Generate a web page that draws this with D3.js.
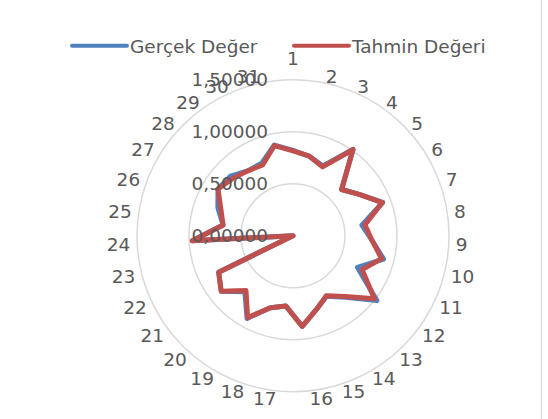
<!DOCTYPE html>
<html>
  <head>
    <meta charset='utf-8'>
    <style>
      body { margin: 0; background: #fff; }
      text { font-family: "DejaVu Sans", sans-serif; fill: #595959; }
    </style>
  </head>
  <body>
    <div id="chart"></div>
    <script src="https://cdn.jsdelivr.net/npm/d3@7/dist/d3.min.js"></script>
    <script type="text/javascript">

      // --------------------------- data --------------------------
      var categories = d3.range(1, 32).map(String);

      var gercek = [0.82, 0.78, 0.73, 1.01, 0.645, 0.75, 0.92, 0.67, 0.757, 0.90,
                    0.69, 1.02, 0.78, 0.665, 0.746, 0.877, 0.68, 0.726, 0.91, 0.71,
                    0.873, 0.796, 0.0, 0.97, 0.68, 0.77, 0.85, 0.83, 0.76, 0.76, 0.89];

      var tahmin = [0.815, 0.78, 0.72, 1.01, 0.645, 0.75, 0.915, 0.70, 0.757, 0.88,
                    0.74, 0.99, 0.77, 0.66, 0.746, 0.877, 0.68, 0.726, 0.90, 0.694,
                    0.873, 0.796, 0.0, 0.97, 0.68, 0.74, 0.85, 0.80, 0.76, 0.74, 0.885];

      var ticks = [0, 0.5, 1.0, 1.5];
      var tickLabels = ["0,00000", "0,50000", "1,00000", "1,50000"];

      var seriesNames = ["Gerçek Değer", "Tahmin Değeri"];
      var colors = ["#4f81bd", "#c0504d"];

      // --------------------------- layout --------------------------
      var width = 548, height = 419,
          cx = 293, cy = 235.7,
          fontSize = 18.5;

      var r = d3.scaleLinear().domain([0, 1.5]).range([0, 156]);
      var step = 2 * Math.PI / categories.length;

      var svg = d3.select("#chart").append("svg")
        .attr("width", width)
        .attr("height", height);

      // chart border (right side visible)
      svg.append("line")
        .attr("x1", 541.5).attr("x2", 541.5)
        .attr("y1", 0).attr("y2", height)
        .attr("stroke", "#d9d9d9")
        .attr("stroke-width", 1);

      var g = svg.append("g").attr("transform", "translate(" + [cx, cy] + ")");

      // circular grid
      g.selectAll(".grid")
        .data(ticks.filter(function(d){ return d > 0; }))
        .enter().append("circle")
        .attr("class", "grid")
        .attr("r", function(d){ return r(d); })
        .attr("fill", "none")
        .attr("stroke", "#d9d9d9")
        .attr("stroke-width", 1.5);

      // series
      var line = d3.lineRadial()
        .angle(function(d, i){ return i * step; })
        .radius(function(d){ return r(d); })
        .curve(d3.curveLinearClosed);

      [gercek, tahmin].forEach(function(vals, k){
        g.append("path")
          .datum(vals)
          .attr("d", line)
          .attr("fill", "none")
          .attr("stroke", colors[k])
          .attr("stroke-width", 5)
          .attr("stroke-linejoin", "round");
      });

      // radial tick labels
      g.selectAll(".tick")
        .data(ticks)
        .enter().append("text")
        .attr("class", "tick")
        .attr("x", -25)
        .attr("y", function(d){ return -r(d) + fontSize * 0.36; })
        .attr("text-anchor", "end")
        .style("font-size", fontSize + "px")
        .text(function(d, i){ return tickLabels[i]; });

      // category labels
      var labelR = 163;
      g.selectAll(".cat")
        .data(categories)
        .enter().append("text")
        .attr("class", "cat")
        .style("font-size", fontSize + "px")
        .attr("x", function(d, i){ return labelR * Math.sin(i * step); })
        .attr("y", function(d, i){
          if (i === 0) return -labelR - 8;
          return -labelR * Math.cos(i * step) + fontSize * 0.36;
        })
        .attr("text-anchor", function(d, i){
          var s = Math.sin(i * step);
          if (Math.abs(s) < 1e-6) return "middle";
          return s > 0 ? "start" : "end";
        })
        .text(function(d){ return d; });

      // legend
      var legendX = [72, 294];
      var legend = svg.selectAll(".legend")
        .data(seriesNames)
        .enter().append("g")
        .attr("class", "legend")
        .attr("transform", function(d, i){ return "translate(" + [legendX[i], 45.7] + ")"; });

      legend.append("line")
        .attr("x1", 0).attr("x2", 55)
        .attr("stroke", function(d, i){ return colors[i]; })
        .attr("stroke-width", 4)
        .attr("stroke-linecap", "round");

      legend.append("text")
        .attr("x", 58)
        .attr("y", 7)
        .style("font-size", fontSize + "px")
        .text(function(d){ return d; });

    </script>
  </body>
</html>
